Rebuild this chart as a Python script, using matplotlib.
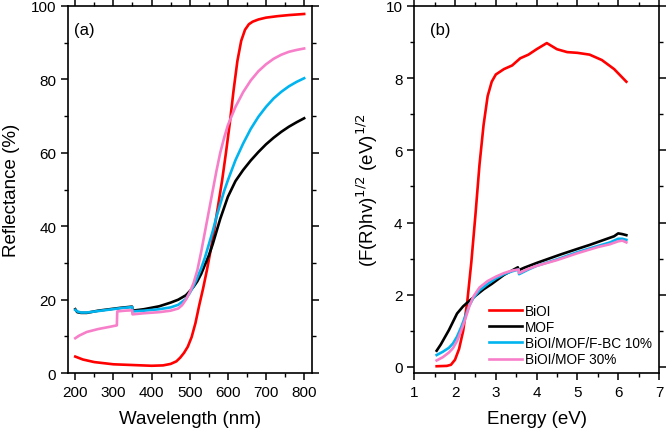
import matplotlib
matplotlib.use('Agg')
import matplotlib.pyplot as plt
from matplotlib.ticker import MultipleLocator

plt.rcParams['font.family'] = ['Liberation Sans', 'DejaVu Sans']

# ---- (a) reflectance spectra ----
wl_biol = [200, 220, 250, 300, 350, 400, 430, 450, 465, 475, 485, 495, 505, 515, 525, 535,
           545, 555, 565, 575, 585, 595, 605, 615, 625, 635, 645, 655, 665, 680, 700, 730, 760, 800]
r_biol = [4.5, 3.7, 3.0, 2.4, 2.2, 2.0, 2.1, 2.5, 3.2, 4.2, 5.5, 7.2, 9.8, 13.6, 18.5, 23,
          28, 33.5, 39.5, 46, 52.5, 60, 68, 77, 85, 90.5, 93.5, 95, 95.7, 96.3, 96.8, 97.2, 97.5, 97.8]

wl_mof = [200, 205, 215, 230, 260, 290, 320, 349, 350, 380, 420, 450, 470, 490, 500, 510,
          520, 530, 540, 550, 560, 570, 580, 590, 600, 620, 640, 660, 680, 700, 720, 740, 760, 780, 800]
r_mof = [17.4, 16.6, 16.4, 16.4, 17.0, 17.4, 17.8, 18.1, 17.0, 17.4, 18.2, 19.2, 20.0, 21.2, 22.3, 23.5,
         25, 27, 29.5, 32, 35, 38.5, 42, 45, 48, 52.3, 55.3, 57.9, 60.2, 62.3, 64.1, 65.7, 67.1, 68.3, 69.4]

wl_10 = [200, 205, 215, 230, 260, 290, 320, 349, 350, 380, 420, 450, 470, 490, 500, 510,
         520, 530, 540, 550, 560, 570, 580, 590, 600, 620, 640, 660, 680, 700, 720, 740, 760, 780, 800]
r_10 = [17.2, 16.8, 16.5, 16.5, 16.9, 17.3, 17.7, 18.0, 16.8, 17.0, 17.4, 17.9, 18.6, 20.2, 21.8, 23.7,
        26, 28.5, 31.5, 35, 38.5, 42.5, 46, 49.5, 52.5, 58, 62.5, 66.5, 69.8, 72.5, 74.8, 76.6, 78.1, 79.3, 80.3]

wl_30 = [200, 210, 230, 260, 290, 309, 310, 330, 349, 350, 380, 420, 450, 470, 480, 490, 500,
         510, 520, 530, 540, 550, 560, 570, 580, 590, 600, 620, 640, 660, 680, 700, 720, 740, 760, 780, 800]
r_30 = [9.5, 10.2, 11.2, 12.0, 12.6, 13.0, 16.8, 17.0, 17.1, 16.0, 16.3, 16.6, 17.0, 17.6, 18.5, 20, 22,
        24.5, 28, 33, 38.5, 44, 49.5, 55, 60, 64, 67.5, 72.5, 76.5, 79.7, 82.2, 84.1, 85.6, 86.7, 87.5, 88.0, 88.4]

# ---- (b) Kubelka-Munk plots ----
e_biol = [1.55, 1.8, 1.9, 2.0, 2.1, 2.2, 2.3, 2.4, 2.5, 2.6, 2.7, 2.8, 2.9, 3.0, 3.2, 3.4, 3.6,
          3.8, 4.0, 4.25, 4.5, 4.75, 5.0, 5.3, 5.6, 5.9, 6.2]
k_biol = [0.02, 0.03, 0.06, 0.2, 0.5, 1.0, 1.8, 2.9, 4.2, 5.6, 6.7, 7.5, 7.9, 8.1, 8.25, 8.35, 8.55,
          8.65, 8.8, 8.97, 8.8, 8.72, 8.7, 8.65, 8.5, 8.25, 7.9]

e_mof = [1.55, 1.65, 1.75, 1.85, 1.95, 2.05, 2.2, 2.35, 2.5, 2.7, 2.9, 3.2, 3.54, 3.56, 3.7,
         4.0, 4.3, 4.6, 5.0, 5.3, 5.6, 5.9, 6.0, 6.1, 6.2]
k_mof = [0.45, 0.62, 0.82, 1.02, 1.25, 1.48, 1.68, 1.83, 1.97, 2.15, 2.3, 2.55, 2.76, 2.68, 2.75,
         2.88, 3.0, 3.12, 3.27, 3.38, 3.5, 3.62, 3.7, 3.68, 3.65]

e_10 = [1.55, 1.7, 1.85, 1.95, 2.05, 2.15, 2.25, 2.35, 2.45, 2.6, 2.8, 3.0, 3.2, 3.4, 3.56, 3.57,
        3.8, 4.0, 4.5, 5.0, 5.5, 5.8, 6.0, 6.1, 6.2]
k_10 = [0.33, 0.42, 0.53, 0.65, 0.84, 1.1, 1.4, 1.7, 1.91, 2.12, 2.3, 2.45, 2.57, 2.65, 2.7, 2.57,
        2.7, 2.8, 2.98, 3.18, 3.35, 3.45, 3.55, 3.55, 3.52]

e_30 = [1.55, 1.7, 1.85, 1.95, 2.05, 2.15, 2.25, 2.35, 2.45, 2.6, 2.8, 3.0, 3.2, 3.4, 3.56, 3.57,
        3.8, 4.0, 4.5, 5.0, 5.5, 5.8, 6.0, 6.1, 6.2]
k_30 = [0.18, 0.27, 0.4, 0.52, 0.72, 1.0, 1.32, 1.68, 1.95, 2.2, 2.38, 2.5, 2.6, 2.67, 2.7, 2.6,
        2.72, 2.8, 2.96, 3.15, 3.32, 3.4, 3.48, 3.5, 3.45]

labels = ['BiOI', 'MOF', 'BiOI/MOF/F-BC 10%', 'BiOI/MOF 30%']
colors = ['#ff0000', '#000000', '#00b4f0', '#f77fc9']

fig = plt.figure(figsize=(6.67, 4.31), dpi=100)
ax1 = fig.add_axes([0.102, 0.132, 0.366, 0.852])
ax2 = fig.add_axes([0.621, 0.132, 0.367, 0.852])

lw = 1.9
for x, y, c, lab in zip([wl_biol, wl_mof, wl_10, wl_30], [r_biol, r_mof, r_10, r_30], colors, labels):
    ax1.plot(x, y, color=c, lw=lw, label=lab)
for x, y, c, lab in zip([e_biol, e_mof, e_10, e_30], [k_biol, k_mof, k_10, k_30], colors, labels):
    ax2.plot(x, y, color=c, lw=lw, label=lab)

ax1.set_xlim(181, 821)
ax1.set_ylim(0, 100)
ax1.xaxis.set_major_locator(MultipleLocator(100))
ax1.xaxis.set_minor_locator(MultipleLocator(50))
ax1.yaxis.set_major_locator(MultipleLocator(20))
ax1.yaxis.set_minor_locator(MultipleLocator(10))
ax1.set_xlabel('Wavelength (nm)', fontsize=13.5, labelpad=8)
ax1.set_ylabel('Reflectance (%)', fontsize=13.5, labelpad=7.5)
ax1.text(0.025, 0.955, '(a)', transform=ax1.transAxes, fontsize=12, va='top')

ax2.set_xlim(1, 7)
ax2.set_ylim(-0.17, 10)
ax2.xaxis.set_major_locator(MultipleLocator(1))
ax2.xaxis.set_minor_locator(MultipleLocator(0.5))
ax2.yaxis.set_major_locator(MultipleLocator(2))
ax2.yaxis.set_minor_locator(MultipleLocator(1))
ax2.set_xlabel('Energy (eV)', fontsize=13.5, labelpad=8)
ax2.set_ylabel('(F(R)hv)$^{1/2}$ (eV)$^{1/2}$', fontsize=13.5)
ax2.text(0.065, 0.955, '(b)', transform=ax2.transAxes, fontsize=12, va='top')
ax2.legend(loc='lower right', bbox_to_anchor=(1.0, 0.0), frameon=False, fontsize=9.8,
           handlelength=2.4, handletextpad=0.25, labelspacing=0.15, borderaxespad=0.1)

for ax in (ax1, ax2):
    ax.tick_params(which='both', direction='out', top=True, right=True, labelsize=11)
    ax.tick_params(which='major', length=5, width=1.1)
    ax.tick_params(which='minor', length=3, width=1.0)
    for s in ax.spines.values():
        s.set_linewidth(1.2)

fig.savefig('out.png', dpi=100)
